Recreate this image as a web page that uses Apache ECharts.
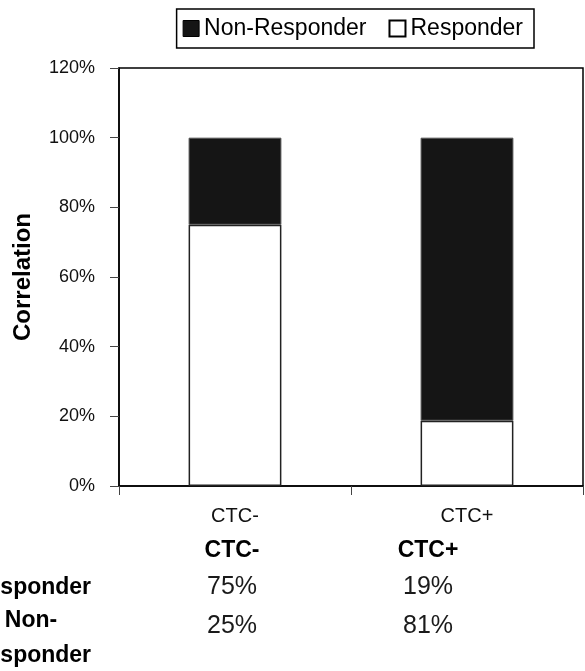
<!DOCTYPE html>
<html>
<head>
<meta charset="utf-8">
<script src="https://cdn.jsdelivr.net/npm/echarts@6/dist/echarts.min.js"></script>
<style>
html,body{margin:0;padding:0;background:#fff;}
#chart{width:585px;height:671px;}
</style>
</head>
<body>
<div id="chart"></div>
<script>
var categories = ['CTC-', 'CTC+'];
var responder = [75, 18.75];
var nonResponder = [25, 81.25];
var yTicks = [0, 20, 40, 60, 80, 100, 120];
var tableCols = ['CTC-', 'CTC+'];
var tableRowNames = ['Responder', 'Non-\nResponder'];
var tableValues = [['75%', '19%'], ['25%', '81%']];

var chart = echarts.init(document.getElementById('chart'));
var FONT = 'Liberation Sans, Arial, sans-serif';

var colX = [232, 428];
var rowY = [587, 626];
var rowLabelY = [588, 638];
var graphics = [];
tableCols.forEach(function (c, i) {
  graphics.push({type: 'text', x: colX[i], y: 551, style: {text: c, font: 'bold 23px ' + FONT, fill: '#000', textAlign: 'center', textVerticalAlign: 'middle'}});
});
tableRowNames.forEach(function (r, i) {
  graphics.push({type: 'text', x: 31, y: rowLabelY[i], style: {text: r, font: 'bold 23px ' + FONT, fill: '#000', textAlign: 'center', textVerticalAlign: 'middle', lineHeight: 35}});
});
tableValues.forEach(function (row, i) {
  row.forEach(function (v, j) {
    graphics.push({type: 'text', x: colX[j], y: rowY[i], style: {text: v, font: '25px ' + FONT, fill: '#1a1a1a', textAlign: 'center', textVerticalAlign: 'middle'}});
  });
});

var option = {
  animation: false,
  textStyle: {fontFamily: FONT},
  legend: {
    top: 9, right: 51,
    itemWidth: 16, itemHeight: 16, itemGap: 22,
    borderColor: '#000', borderWidth: 1.5, borderRadius: 0,
    padding: [8, 11, 8, 6],
    icon: 'rect',
    textStyle: {fontSize: 23, color: '#000', fontFamily: FONT},
    data: [
      {name: 'Non-Responder', itemStyle: {color: '#151515', borderColor: '#000', borderWidth: 1}},
      {name: 'Responder', itemStyle: {color: '#fff', borderColor: '#000', borderWidth: 2}}
    ]
  },
  grid: {left: 119, right: 2, top: 68, bottom: 185, show: true, borderColor: '#000', borderWidth: 1.5, backgroundColor: 'transparent'},
  xAxis: {
    type: 'category', data: categories,
    axisLine: {lineStyle: {color: '#000', width: 1.5}},
    axisTick: {show: true, length: 9, lineStyle: {color: '#444'}},
    axisLabel: {color: '#111', fontSize: 20, margin: 20, fontFamily: FONT}
  },
  yAxis: {
    type: 'value', min: 0, max: 120, interval: 20,
    name: 'Correlation', nameLocation: 'middle', nameGap: 84,
    nameTextStyle: {fontWeight: 'bold', fontSize: 24, color: '#000', fontFamily: FONT},
    axisLine: {show: true, lineStyle: {color: '#000', width: 1.5}},
    axisTick: {show: true, length: 9, lineStyle: {color: '#444'}},
    splitLine: {show: false},
    axisLabel: {color: '#111', fontSize: 18, margin: 24, fontFamily: FONT, formatter: function (v) { return v + '%'; }}
  },
  series: [
    {name: 'Responder', type: 'bar', stack: 'a', data: responder, barWidth: '40%',
     itemStyle: {color: '#fff', borderColor: '#222', borderWidth: 1.5}},
    {name: 'Non-Responder', type: 'bar', stack: 'a', data: nonResponder, barWidth: '40%',
     itemStyle: {color: '#151515', borderColor: '#555', borderWidth: 1}}
  ],
  graphic: graphics
};
chart.setOption(option);
</script>
</body>
</html>
